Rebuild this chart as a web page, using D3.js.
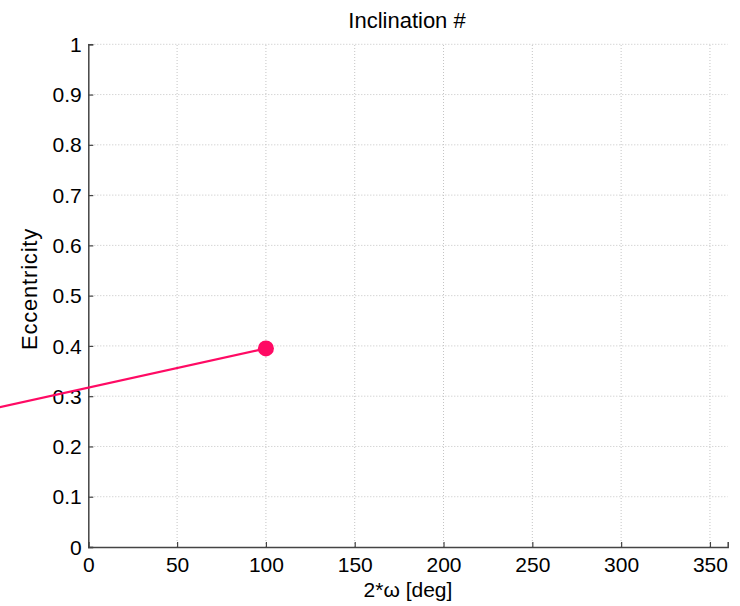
<!DOCTYPE html>
<html>
<head>
<meta charset="utf-8">
<script src="https://cdn.jsdelivr.net/npm/d3@7"></script>
<style>
  body { margin: 0; background: #fff; }
  svg text { font-family: "Liberation Sans", Arial, sans-serif; fill: #000; }
</style>
</head>
<body>
<svg id="chart"></svg>
<script>
WIDTH = 740
HEIGHT = 606
margin = { top: 44.3, right: 12.3, bottom: 59, left: 88.3 }

// data
omega2 = [-60, 100]
ecc = [0.270, 0.395]
x_ticks = [0, 50, 100, 150, 200, 250, 300, 350]
y_ticks = [0, 0.1, 0.2, 0.3, 0.4, 0.5, 0.6, 0.7, 0.8, 0.9, 1]
line_colour = "#ff0a64"

var points = omega2.map(function (d, i) { return { x: d, y: ecc[i] }; });

var svg = d3.select("#chart")
    .attr("width", WIDTH)
    .attr("height", HEIGHT);

var x = d3.scaleLinear().domain([0, 360]).range([margin.left, WIDTH - margin.right]);
var y = d3.scaleLinear().domain([0, 1]).range([HEIGHT - margin.bottom, margin.top]);

// dotted grid
svg.append("g")
    .selectAll("line")
    .data(x_ticks.slice(1))
    .enter().append("line")
    .attr("x1", function (d) { return x(d); })
    .attr("x2", function (d) { return x(d); })
    .attr("y1", y(0))
    .attr("y2", y(1))
    .attr("stroke", "#c4c4c4")
    .attr("stroke-width", 1)
    .attr("stroke-dasharray", "1,2");

svg.append("g")
    .selectAll("line")
    .data(y_ticks.slice(1))
    .enter().append("line")
    .attr("x1", x(0))
    .attr("x2", x(360))
    .attr("y1", function (d) { return y(d); })
    .attr("y2", function (d) { return y(d); })
    .attr("stroke", "#c4c4c4")
    .attr("stroke-width", 1)
    .attr("stroke-dasharray", "1,2");

// axes, ticks pointing inwards like matlab
var xAxis = svg.append("g")
    .attr("transform", "translate(0," + y(0) + ")")
    .call(d3.axisBottom(x).tickValues(x_ticks).tickSize(-5).tickPadding(10).tickFormat(d3.format("d")));

var yAxis = svg.append("g")
    .attr("transform", "translate(" + x(0) + ",0)")
    .call(d3.axisLeft(y).tickValues(y_ticks).tickSize(-5).tickPadding(6.5).tickFormat(function (d) { return d === 0 || d === 1 ? d : d.toFixed(1); }));

[xAxis, yAxis].forEach(function (a) {
    a.select(".domain").attr("stroke", "#444").attr("stroke-width", 1.5);
    a.selectAll(".tick line").attr("stroke", "#444").attr("stroke-width", 1.2);
    a.selectAll(".tick text").attr("font-size", 21).attr("fill", "#000")
        .attr("font-family", "Liberation Sans, Arial, sans-serif");
});
yAxis.selectAll(".tick text").attr("dy", "0.34em");

// series, not clipped to the axes
svg.append("path")
    .datum(points)
    .attr("fill", "none")
    .attr("stroke", line_colour)
    .attr("stroke-width", 2.2)
    .attr("d", d3.line().x(function (d) { return x(d.x); }).y(function (d) { return y(d.y); }));

svg.append("g")
    .selectAll("circle")
    .data(points.slice(-1))
    .enter().append("circle")
    .attr("cx", function (d) { return x(d.x); })
    .attr("cy", function (d) { return y(d.y); })
    .attr("r", 8)
    .attr("fill", line_colour);

svg.append("text")
    .attr("text-anchor", "middle")
    .attr("x", 407)
    .attr("y", 28)
    .attr("font-size", 22)
    .text("Inclination #");

svg.append("text")
    .attr("text-anchor", "middle")
    .attr("x", 408)
    .attr("y", 597)
    .attr("font-size", 21)
    .text("2*\u03c9 [deg]");

svg.append("text")
    .attr("text-anchor", "middle")
    .attr("transform", "translate(37,289) rotate(-90)")
    .attr("font-size", 22)
    .attr("letter-spacing", 0.8)
    .text("Eccentricity");
</script>
</body>
</html>
